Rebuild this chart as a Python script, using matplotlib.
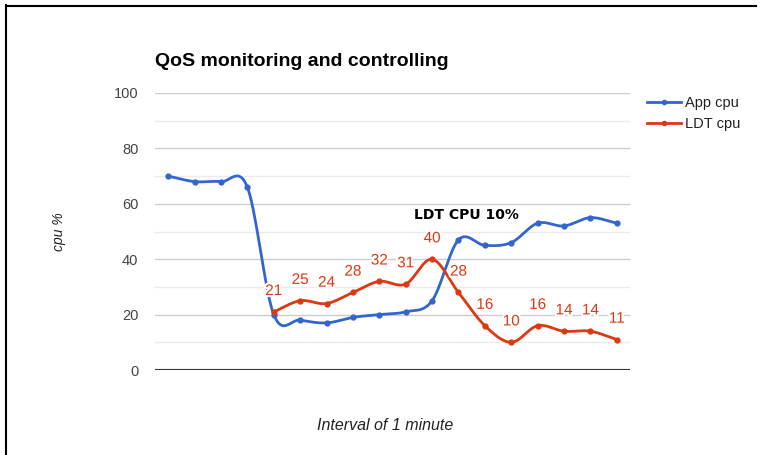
import numpy as np
import matplotlib
matplotlib.use("Agg")
import matplotlib.pyplot as plt
import matplotlib.patheffects as pe
from matplotlib.lines import Line2D

# data (one point per minute)
app_cpu = [70, 68, 68, 66, 20, 18, 17, 19, 20, 21, 25, 47, 45, 46, 53, 52, 55, 53]
ldt_cpu = [21, 25, 24, 28, 32, 31, 40, 28, 16, 10, 16, 14, 14, 11]
ldt_start = 4
y_ticks = [0, 20, 40, 60, 80, 100]
minor_ticks = [10, 30, 50, 70, 90]

BLUE = "#3366cc"
RED = "#dc3912"

plt.rcParams['font.family'] = ['Liberation Sans', 'DejaVu Sans']


def smooth(x, y, n=30):
    # catmull-rom style curve through the points, like google's "function" curve
    x = np.asarray(x, float)
    y = np.asarray(y, float)
    t = np.zeros_like(y)
    t[1:-1] = (y[2:] - y[:-2]) / 2
    t[0] = y[1] - y[0]
    t[-1] = y[-1] - y[-2]
    xs, ys = [], []
    for i in range(len(x) - 1):
        s = np.linspace(0, 1, n, endpoint=False)
        h00 = 2 * s**3 - 3 * s**2 + 1
        h10 = s**3 - 2 * s**2 + s
        h01 = -2 * s**3 + 3 * s**2
        h11 = s**3 - s**2
        xs.append(x[i] + s * (x[i + 1] - x[i]))
        ys.append(h00 * y[i] + h10 * t[i] + h01 * y[i + 1] + h11 * t[i + 1])
    xs.append([x[-1]])
    ys.append([y[-1]])
    return np.concatenate(xs), np.concatenate(ys)


fig = plt.figure(figsize=(7.65, 4.55), dpi=100)
ax = fig.add_axes([155 / 765, 1 - 370 / 455, 475 / 765, 277 / 455])

x_app = np.arange(len(app_cpu))
x_ldt = np.arange(len(ldt_cpu)) + ldt_start

# grid
for v in minor_ticks:
    ax.axhline(v, color="#ebebeb", lw=1, zorder=0)
for v in y_ticks[1:]:
    ax.axhline(v, color="#cccccc", lw=1, zorder=0)
ax.axhline(0, color="#333333", lw=1.5, zorder=1)

sx, sy = smooth(x_app, app_cpu)
ax.plot(sx, sy, color=BLUE, lw=2, zorder=3)
ax.plot(x_app, app_cpu, "o", color=BLUE, ms=3.5, zorder=4)

sx, sy = smooth(x_ldt, ldt_cpu)
ax.plot(sx, sy, color=RED, lw=2, zorder=3)
ax.plot(x_ldt, ldt_cpu, "o", color=RED, ms=3.5, zorder=4)

for xi, v in zip(x_ldt, ldt_cpu):
    ax.annotate(str(v), (xi, v), xytext=(0, 15), textcoords="offset points",
                ha="center", va="center", fontsize=11, color=RED, zorder=5,
                path_effects=[pe.withStroke(linewidth=3, foreground="white")])

ax.text(11.3, 56, "LDT CPU 10%", fontsize=10, fontweight="bold",
        family="DejaVu Sans", ha="center", va="center", color="black", zorder=6)

ax.set_xlim(-0.5, len(app_cpu) - 0.5)
ax.set_ylim(0, 100)
ax.set_yticks(y_ticks)
ax.set_xticks([])
ax.tick_params(axis="y", length=0, pad=12, labelsize=10.5, labelcolor="#444444")
for sp in ax.spines.values():
    sp.set_visible(False)

fig.text(155 / 765, 1 - 61 / 455, "QoS monitoring and controlling", fontsize=14,
         fontweight="bold", ha="left", va="center", color="black")
fig.text(59 / 765, 1 - 232 / 455, "cpu %", rotation=90, style="italic",
         fontsize=10, ha="center", va="center", color="#222222")
fig.text(385 / 765, 1 - 425 / 455, "Interval of 1 minute", style="italic",
         fontsize=11.5, ha="center", va="center", color="#222222")

handles = [Line2D([], [], color=BLUE, lw=2, marker="o", ms=3),
           Line2D([], [], color=RED, lw=2, marker="o", ms=3)]
fig.legend(handles, ["App cpu", "LDT cpu"], loc="upper left",
           bbox_to_anchor=(634 / 765, 1 - 83 / 455), frameon=False,
           fontsize=10.5, handlelength=2.3, handletextpad=0.3, labelspacing=0.45,
           labelcolor="#222222")

# black frame lines on top and left
fig.add_artist(Line2D([6 / 765, 756 / 765], [1 - 5.5 / 455] * 2, color="black", lw=1.5))
fig.add_artist(Line2D([6.5 / 765] * 2, [0, 1 - 5 / 455], color="black", lw=1.5))

fig.savefig("out.png", dpi=100)
